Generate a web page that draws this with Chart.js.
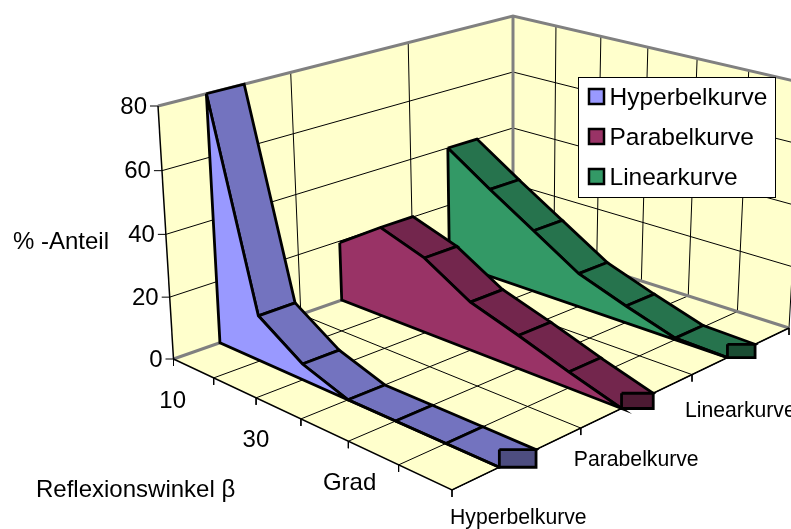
<!DOCTYPE html>
<html>
<head>
<meta charset="utf-8">
<style>html,body{margin:0;padding:0;background:#fff}canvas{display:block}</style>
<script src="https://cdn.jsdelivr.net/npm/chart.js@4/dist/chart.umd.min.js"></script>
</head>
<body>
<canvas id="c" width="791" height="529"></canvas>
<script>
// Series values over the reflection-angle categories
const seriesNames = ['Hyperbelkurve', 'Parabelkurve', 'Linearkurve'];
const hyperbelValues = [80, 14.5, 5, 0, 0, 0, 0];
const parabelValues = [19.5, 29.5, 24.5, 15.5, 10.5, 5, 0];
const linearValues = [40, 30, 20.5, 11, 5.5, 0.5, 0];
const categoryLabels = ['', '10', '', '30', '', 'Grad', ''];
const valueTicks = [0, 20, 40, 60, 80];
const valueAxisTitle = '% -Anteil';
const categoryAxisTitle = 'Reflexionswinkel β';

const seriesColors = [
  { front: '#9999FF', top: '#7373BF', end: '#4D4D80' },
  { front: '#993366', top: '#73264D', end: '#4D1A33' },
  { front: '#339966', top: '#26734D', end: '#1A4D33' }
];
const seriesValues = [hyperbelValues, parabelValues, linearValues];

// Perspective box: corners of the floor plane and of the plane at the top value
const floorCorners = [{ x: 173.5, y: 359 }, { x: 452, y: 490 }, { x: 789, y: 328 }, { x: 513, y: 240 }];
const roofCorners = [{ x: 158, y: 106 }, { x: 449, y: 205 }, { x: 803, y: 83 }, { x: 513, y: 16 }];
const bandStart = 0.35, bandEnd = 0.635, valueMax = 80, heightBow = 0.03;

// Maps the unit square (u, v) onto a four-cornered plane
function planeMap([A, B, C, D]) {
  const dx1 = B.x - C.x, dx2 = D.x - C.x, sx = A.x - B.x + C.x - D.x;
  const dy1 = B.y - C.y, dy2 = D.y - C.y, sy = A.y - B.y + C.y - D.y;
  const det = dx1 * dy2 - dx2 * dy1;
  const g = (sx * dy2 - dx2 * sy) / det, h = (dx1 * sy - sx * dy1) / det;
  const a = B.x - A.x + g * B.x, b = D.x - A.x + h * D.x;
  const d = B.y - A.y + g * B.y, e = D.y - A.y + h * D.y;
  return (u, v) => {
    const m = g * u + h * v + 1;
    return { x: (a * u + b * v + A.x) / m, y: (d * u + e * v + A.y) / m };
  };
}
const floorAt = planeMap(floorCorners), roofAt = planeMap(roofCorners);

// u: along the category axis, v: along the series axis, w: height, all 0..1
function project(u, v, w) {
  const s = floorAt(u, v), t = roofAt(u, v);
  const k = w / (1 + heightBow * (1 - v) * (1 - w));
  return { x: s.x + (t.x - s.x) * k, y: s.y + (t.y - s.y) * k };
}

const paint = [];
function poly(points, fill, stroke, width, label) {
  paint.push({ label: label || '', data: points, fill: fill ? 'shape' : false,
    backgroundColor: fill || 'transparent', borderColor: stroke || 'transparent',
    borderWidth: width || 0, showLine: true, pointRadius: 0, tension: 0,
    borderJoinStyle: 'miter', borderCapStyle: 'butt', clip: false });
}
const closed = pts => pts.concat([pts[0]]);
const wallColor = '#FFFFCC', grey = '#808080';

// Walls and floor
poly(closed([project(0,0,0), project(0,1,0), project(0,1,1), project(0,0,1)]), wallColor);
poly(closed([project(0,1,0), project(1,1,0), project(1,1,1), project(0,1,1)]), wallColor);
poly(closed([project(0,0,0), project(1,0,0), project(1,1,0), project(0,1,0)]), wallColor);

const uSteps = categoryLabels.length - 1, vSteps = seriesNames.length;
valueTicks.slice(1, -1).forEach(t => {
  const w = t / valueMax;
  poly([project(0,0,w), project(0,1,w), project(1,1,w)], null, '#000', 1);
});
for (let i = 1; i < vSteps; i++) {
  poly([project(0,i/vSteps,0), project(0,i/vSteps,1)], null, '#000', 1);
  poly([project(0,i/vSteps,0), project(1,i/vSteps,0)], null, '#000', 1);
}
for (let i = 1; i <= uSteps; i++) {
  poly([project(i/uSteps,0,0), project(i/uSteps,1,0), project(i/uSteps,1,1)], null, '#000', 1);
}
// Grey box edges
poly([project(0,0,1), project(0,1,1), project(1,1,1)], null, grey, 3);
poly([project(0,1,0), project(0,1,1)], null, grey, 3);
poly([project(0,0,0), project(0,1,0), project(1,1,0)], null, grey, 3);
// Front axis lines and tick marks
poly([project(0,0,0), project(0,0,1)], null, '#000', 1.5);
poly([project(0,0,0), project(1,0,0), project(1,1,0)], null, '#000', 1.5);
valueTicks.forEach(t => {
  const s = project(0,0,t/valueMax);
  poly([s, { x: s.x - 8, y: s.y }], null, '#000', 1);
});
for (let i = 0; i <= uSteps; i++) {
  const s = project(i/uSteps,0,0);
  poly([s, { x: s.x, y: s.y + 7 }], null, '#000', 1);
}
for (let i = 1; i <= vSteps; i++) {
  const s = project(1,i/vSteps,0);
  poly([s, { x: s.x, y: s.y + 7 }], null, '#000', 1);
}

// Series ribbons, farthest first
for (let k = seriesValues.length - 1; k >= 0; k--) {
  const vals = seriesValues[k], col = seriesColors[k];
  const vf = (k + bandStart) / vSteps, vb = (k + bandEnd) / vSteps;
  const n = vals.length - 1;
  for (let i = 0; i < n; i++) {
    if (vals[i + 1] > vals[i]) continue; // rising faces point away from the viewer
    poly(closed([project(i/n,vf,vals[i]/valueMax), project((i+1)/n,vf,vals[i+1]/valueMax),
      project((i+1)/n,vb,vals[i+1]/valueMax), project(i/n,vb,vals[i]/valueMax)]), col.top, '#000', 2.8);
  }
  const frontPts = vals.map((val, i) => project(i/n, vf, val/valueMax));
  frontPts.push(project(1,vf,0), project(0,vf,0));
  poly(closed(frontPts), col.front, '#000', 2.8, seriesNames[k]);
  const p1 = project(1,vf,vals[n]/valueMax), p2 = project(1,vb,vals[n]/valueMax);
  poly(closed([{x:p1.x,y:p2.y},{x:p2.x,y:p2.y},{x:p2.x,y:p1.y},{x:p1.x,y:p1.y}]), col.end, '#000', 2.8);
}
const datasets = paint.map((ds, i) => Object.assign(ds, { order: -i }));

const fontFamily = '"Liberation Sans", Arial, sans-serif';
const textPlugin = {
  id: 'boxText',
  afterDatasetsDraw(chart) {
    const ctx = chart.ctx;
    ctx.save();
    ctx.fillStyle = '#000';
    ctx.textBaseline = 'middle';
    ctx.font = '24px ' + fontFamily;
    ctx.textAlign = 'right';
    valueTicks.forEach(t => {
      const s = project(0,0,t/valueMax);
      ctx.fillText(String(t), s.x - 11, s.y + 1);
    });
    ctx.textAlign = 'center';
    categoryLabels.forEach((lab, i) => {
      if (!lab) return;
      const u = i / uSteps, s = project(u,0,0);
      ctx.fillText(lab, s.x - 39 - 12 * u, s.y + 25 - 8 * u);
    });
    ctx.textAlign = 'left';
    ctx.fillText(valueAxisTitle, 13, 242);
    ctx.fillText(categoryAxisTitle, 36, 490);
    ctx.font = '21.2px ' + fontFamily;
    seriesNames.forEach((name, i) => {
      const v = i / vSteps, s = project(1,v,0);
      ctx.fillText(name, s.x - 2 - 5 * Math.min(1, 3 * v), s.y + 28 + 13 * v);
    });
    // Legend box
    ctx.fillStyle = '#fff';
    ctx.strokeStyle = '#000';
    ctx.lineWidth = 1;
    ctx.fillRect(578.5, 77.5, 197, 120);
    ctx.strokeRect(578.5, 77.5, 197, 120);
    ctx.font = '24.5px ' + fontFamily;
    seriesNames.forEach((name, i) => {
      const y = 97 + i * 40;
      ctx.fillStyle = seriesColors[i].front;
      ctx.lineWidth = 2.5;
      ctx.fillRect(589, y - 8, 15, 15);
      ctx.strokeRect(589, y - 8, 15, 15);
      ctx.fillStyle = '#000';
      ctx.fillText(name, 609.5, y + 1);
    });
    ctx.restore();
  }
};

new Chart(document.getElementById('c'), {
  type: 'scatter',
  data: { datasets },
  plugins: [textPlugin],
  options: {
    responsive: false,
    animation: false,
    events: [],
    layout: { padding: 0 },
    scales: {
      x: { type: 'linear', min: 0, max: 791, display: false },
      y: { type: 'linear', min: 0, max: 529, reverse: true, display: false }
    },
    plugins: {
      legend: { display: false },
      tooltip: { enabled: false },
      filler: { drawTime: 'beforeDatasetDraw' }
    }
  }
});
</script>
</body>
</html>
